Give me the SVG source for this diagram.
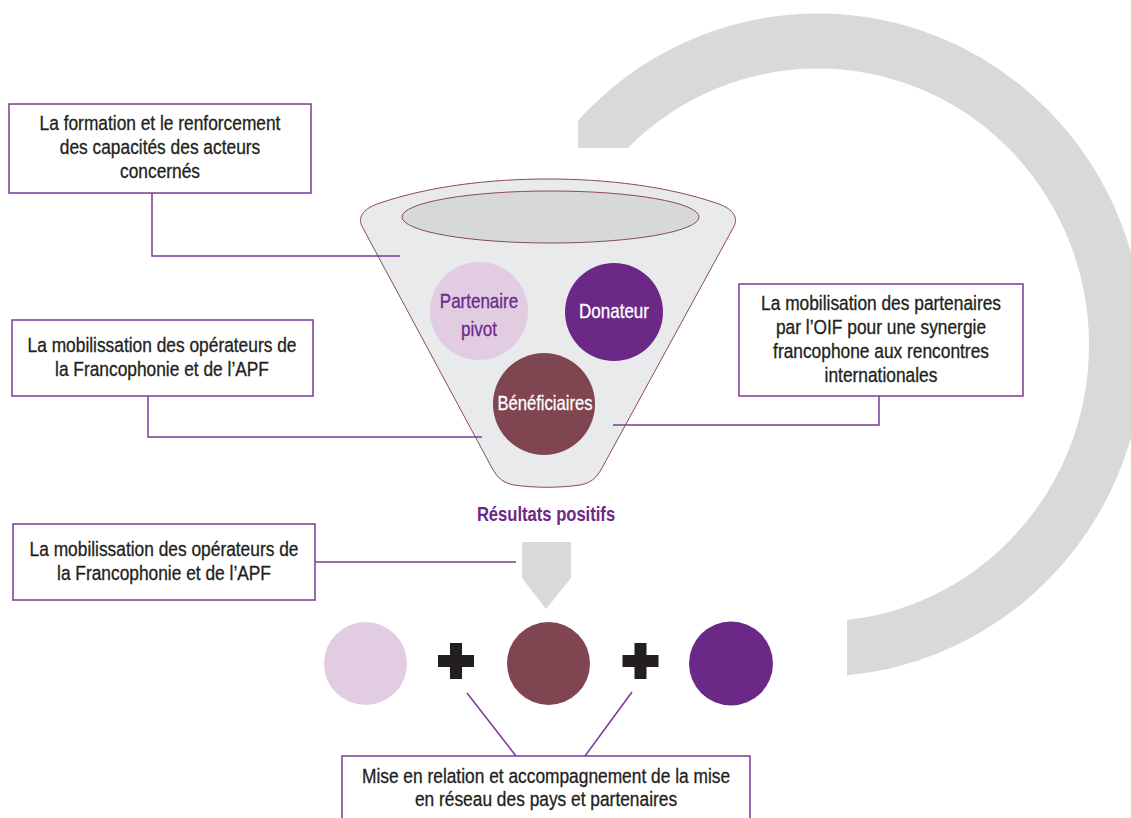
<svg xmlns="http://www.w3.org/2000/svg" width="1131" height="818" viewBox="0 0 1131 818">
  <style>
    .box { fill: #ffffff; stroke: #7b3a96; stroke-width: 1.5; }
    .lbl { font-family: "Liberation Sans", Arial, sans-serif; font-size: 19.5px; fill: #231f20; stroke: #231f20; stroke-width: 0.3; text-anchor: middle; }
    .conn { fill: none; stroke: #7b3a96; stroke-width: 1.5; }
    .inlbl { font-family: "Liberation Sans", Arial, sans-serif; font-size: 20px; text-anchor: middle; stroke-width: 0.3; }
    .gray { fill: #d8dada; }
  </style>
  <defs>
    <clipPath id="ringClip">
      <polygon points="578,0 1131,0 1131,818 847,818 847,148 578,148"/>
    </clipPath>
  </defs>

  <rect width="1131" height="818" fill="#ffffff"/>

  <!-- large grey cycle arc -->
  <g id="cycle-arc" clip-path="url(#ringClip)">
    <ellipse cx="818" cy="345" rx="298.5" ry="304" fill="none" stroke="#d8dada" stroke-width="55"/>
  </g>

  <!-- funnel -->
  <g id="funnel">
    <path d="M 364,230 C 356,218 362,209 380,203 C 430,186 490,179 548,179 C 606,179 666,186 716,203 C 734,209 740,218 732,230 L 602,468 C 596,479 590,483 580,485 C 560,488 534,488 514,485 C 504,483 498,479 492,468 Z" fill="#e9eaeb" stroke="#8a4a5a" stroke-width="1"/>
    <ellipse cx="550.5" cy="217" rx="148.5" ry="26" fill="#d7d8d8" stroke="#8a4a5a" stroke-width="1"/>
  </g>

  <!-- connectors -->
  <g id="connectors">
    <polyline class="conn" points="152,193 152,256 400,256"/>
    <polyline class="conn" points="148,396 148,437 482,437"/>
    <polyline class="conn" points="879,396 879,425 613,425"/>
    <line class="conn" x1="315" y1="562" x2="516" y2="562"/>
    <line class="conn" x1="467" y1="693" x2="516" y2="756"/>
    <line class="conn" x1="632" y1="692" x2="585" y2="756"/>
  </g>

  <g id="partenaire-pivot">
    <circle cx="479" cy="311" r="49" fill="#e2cce2"/>
    <text class="inlbl" transform="translate(479,308) scale(0.85,1)" fill="#6b2a8a" stroke="#6b2a8a">Partenaire</text>
    <text class="inlbl" transform="translate(479,336) scale(0.85,1)" fill="#6b2a8a" stroke="#6b2a8a">pivot</text>
  </g>

  <g id="donateur">
    <circle cx="614" cy="312" r="49" fill="#6b2886"/>
    <text class="inlbl" transform="translate(614,318) scale(0.85,1)" fill="#ffffff" stroke="#ffffff">Donateur</text>
  </g>

  <g id="beneficiaires">
    <circle cx="544" cy="404" r="51" fill="#7f4551"/>
    <text class="inlbl" transform="translate(545,410) scale(0.83,1)" fill="#ffffff" stroke="#ffffff">Bénéficiaires</text>
  </g>

  <g id="box-formation">
    <rect class="box" x="9" y="104" width="302" height="89"/>
    <text class="lbl" transform="translate(160,130) scale(0.89,1)">La formation et le renforcement</text>
    <text class="lbl" transform="translate(160,154) scale(0.89,1)">des capacités des acteurs</text>
    <text class="lbl" transform="translate(160,178) scale(0.89,1)">concernés</text>
  </g>

  <g id="box-operateurs-1">
    <rect class="box" x="12" y="320" width="301" height="76"/>
    <text class="lbl" transform="translate(162,352) scale(0.89,1)">La mobilissation des opérateurs de</text>
    <text class="lbl" transform="translate(162,376) scale(0.89,1)">la Francophonie et de l’APF</text>
  </g>

  <g id="box-partenaires">
    <rect class="box" x="739" y="284" width="284" height="112"/>
    <text class="lbl" transform="translate(881,310) scale(0.89,1)">La mobilisation des partenaires</text>
    <text class="lbl" transform="translate(881,334) scale(0.89,1)">par l’OIF pour une synergie</text>
    <text class="lbl" transform="translate(881,358) scale(0.89,1)">francophone aux rencontres</text>
    <text class="lbl" transform="translate(881,382) scale(0.89,1)">internationales</text>
  </g>

  <g id="resultats">
    <text transform="translate(546,521) scale(0.83,1)" font-family="Liberation Sans, Arial, sans-serif" font-size="20" font-weight="bold" fill="#6b2886" text-anchor="middle">Résultats positifs</text>
  </g>

  <g id="box-operateurs-2">
    <rect class="box" x="13" y="524" width="302" height="76"/>
    <text class="lbl" transform="translate(164,556) scale(0.89,1)">La mobilissation des opérateurs de</text>
    <text class="lbl" transform="translate(164,580) scale(0.89,1)">la Francophonie et de l’APF</text>
  </g>

  <g id="down-arrow">
    <polygon class="gray" points="522,542 571,542 571,578 546,609 522,578"/>
  </g>

  <g id="result-circles">
    <circle cx="365.5" cy="663.5" r="41.5" fill="#e2cce2"/>
    <path d="M 450,643 h 12 v 12 h 12 v 12 h -12 v 12 h -12 v -12 h -12 v -12 h 12 Z" fill="#231f20"/>
    <circle cx="548.5" cy="663.5" r="41.5" fill="#7f4551"/>
    <path d="M 634.5,643 h 12 v 12 h 12 v 12 h -12 v 12 h -12 v -12 h -12 v -12 h 12 Z" fill="#231f20"/>
    <circle cx="731" cy="663.5" r="42" fill="#6b2886"/>
  </g>

  <g id="box-reseau">
    <rect class="box" x="342" y="756" width="408" height="70"/>
    <text class="lbl" transform="translate(546,783) scale(0.89,1)">Mise en relation et accompagnement de la mise</text>
    <text class="lbl" transform="translate(546,806) scale(0.89,1)">en réseau des pays et partenaires</text>
  </g>
</svg>
